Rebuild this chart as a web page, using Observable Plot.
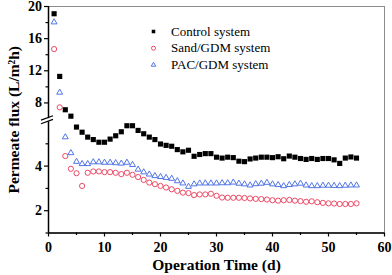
<!DOCTYPE html>
<html><head><meta charset="utf-8">
<script src="https://cdn.jsdelivr.net/npm/d3@7"></script>
<script src="https://cdn.jsdelivr.net/npm/@observablehq/plot@0.6"></script>
<style>body{margin:0;background:#fff} #chart svg{display:block} #chart svg text{font-family:"Liberation Serif","DejaVu Serif","Times New Roman",serif}</style>
</head><body><div id="chart"></div>
<script>
const days = [1,2,3,4,5,6,7,8,9,10,11,12,13,14,15,16,17,18,19,20,21,22,23,24,25,26,27,28,29,30,31,32,33,34,35,36,37,38,39,40,41,42,43,44,45,46,47,48,49,50,51,52,53,54,55];
const control = [19.1,11.3,7.15,6.35,5.75,5.52,5.30,5.19,5.07,5.07,5.21,5.36,5.54,5.81,5.81,5.60,5.45,5.30,5.19,4.99,4.93,4.89,4.74,4.64,4.71,4.44,4.52,4.56,4.56,4.40,4.36,4.40,4.38,4.22,4.20,4.32,4.36,4.40,4.40,4.38,4.42,4.33,4.45,4.40,4.34,4.30,4.34,4.30,4.34,4.34,4.28,4.12,4.36,4.41,4.36];
const sand = [14.7,7.45,4.45,3.88,3.68,3.11,3.70,3.76,3.76,3.73,3.73,3.70,3.64,3.70,3.61,3.51,3.38,3.26,3.19,3.11,3.04,2.96,2.89,2.81,2.79,2.70,2.73,2.73,2.76,2.67,2.59,2.58,2.58,2.58,2.57,2.55,2.53,2.52,2.50,2.47,2.45,2.47,2.48,2.45,2.43,2.40,2.42,2.38,2.35,2.33,2.32,2.30,2.30,2.30,2.33];
const pac = [18.05,9.3,5.3,4.59,4.2,4.1,4.1,4.18,4.18,4.16,4.16,4.14,4.12,4.16,4.06,3.85,3.73,3.63,3.56,3.52,3.48,3.44,3.33,3.23,3.08,3.19,3.23,3.23,3.23,3.23,3.24,3.24,3.27,3.22,3.19,3.14,3.20,3.22,3.26,3.19,3.16,3.11,3.16,3.19,3.22,3.14,3.11,3.11,3.13,3.13,3.12,3.11,3.13,3.14,3.14];
const seriesNames = ["Control system", "Sand/GDM system", "PAC/GDM system"];
const xMajor = [0,10,20,30,40,50,60];
const xMinor = [5,15,25,35,45,55];
const yMajor = [2,4,8,12,16,20];
const yMinor = [1,3,5,10,14,18];
const yLow = [1,6];
const yHigh = [6,20];
const xTitle = "Operation Time (d)";
const yTitle = "Permeate flux (L/m\u00B2h)";

const rows = (vals, s) => days.map((d, i) => ({day: d, flux: vals[i], series: s}));
const ctrlData = rows(control, seriesNames[0]);
const sandData = rows(sand, seriesNames[1]);
const pacData = rows(pac, seriesNames[2]);

const serif = "Liberation Serif, DejaVu Serif, Times New Roman, serif";
const red = "#ee4a66";
const blue = "#5275e6";

function breakMarks(index, scales) {
  const g = d3.create("svg:g");
  const x0 = scales.x(0);
  const yc = (scales.y(yHigh[0]) + scales.y(yLow[1] - 1e-9)) / 2;
  g.append("rect").attr("x", x0 - 2).attr("y", yc - 1.5).attr("width", 4).attr("height", 3).attr("fill", "white");
  for (const off of [-1.8, 1.8]) {
    g.append("line")
      .attr("x1", x0 - 7).attr("y1", yc + off + 2.2)
      .attr("x2", x0 + 5).attr("y2", yc + off - 2.2)
      .attr("stroke", "black").attr("stroke-width", 1.2);
  }
  return g.node();
}

const textCommon = {fontFamily: serif, fill: "black"};
const legendRow = (i, symbol, style, r) => [
  Plot.dot([seriesNames[i]], {frameAnchor: "top-left", dx: 105, dy: 25 + i * 16.7, symbol, r, ...style}),
  Plot.text([seriesNames[i]], {frameAnchor: "top-left", dx: 122.5, dy: 25 + i * 16.7, text: d => d, textAnchor: "start", lineAnchor: "middle", fontSize: 13, ...textCommon})
];

const chart = Plot.plot({
  width: 392,
  height: 275,
  marginLeft: 48,
  marginRight: 8,
  marginTop: 6,
  marginBottom: 42.5,
  style: {fontFamily: serif, background: "white", color: "black"},
  x: {domain: [0, 60], axis: null},
  y: {type: "linear", domain: [1, 6, 6, 20], range: [232.5, 121, 118.5, 6], axis: null},
  marks: [
    Plot.frame({stroke: "#8c8c8c", strokeWidth: 1}),
    Plot.ruleY([yLow[0]], {stroke: "black", strokeWidth: 1.5}),
    Plot.ruleX([0], {y1: yLow[0], y2: yLow[1] - 1e-9, stroke: "black", strokeWidth: 1.5}),
    Plot.ruleX([0], {y1: yHigh[0], y2: yHigh[1], stroke: "black", strokeWidth: 1.5}),
    Plot.axisX({ticks: xMajor, tickSize: 4, tickPadding: 5, fontSize: 14, fontWeight: "bold", label: null, strokeWidth: 1.2, ...textCommon, stroke: "black"}),
    Plot.axisX({ticks: xMinor, tickSize: 2.5, tickFormat: () => "", label: null, strokeWidth: 1.2, stroke: "black"}),
    Plot.axisY({ticks: yMajor, tickSize: 4, tickPadding: 2.5, fontSize: 14, fontWeight: "bold", label: null, strokeWidth: 1.2, ...textCommon, stroke: "black"}),
    Plot.axisY({ticks: yMinor, tickSize: 2.5, tickFormat: () => "", label: null, strokeWidth: 1.2, stroke: "black"}),
    breakMarks,
    Plot.dot(sandData, {x: "day", y: "flux", symbol: "circle", r: 2.6, stroke: red, strokeWidth: 1, fill: "none"}),
    Plot.dot(pacData, {x: "day", y: "flux", symbol: "triangle", r: 2.2, stroke: blue, strokeWidth: 1, fill: "none"}),
    Plot.dot(ctrlData, {x: "day", y: "flux", symbol: "square", r: 2.9, fill: "black", stroke: "none"}),
    ...legendRow(0, "square", {fill: "black", stroke: "none"}, 2),
    ...legendRow(1, "circle", {stroke: red, fill: "none", strokeWidth: 1}, 2),
    ...legendRow(2, "triangle", {stroke: blue, fill: "none", strokeWidth: 1}, 1.7),
    Plot.text([xTitle], {frameAnchor: "bottom", dy: 32, text: d => d, textAnchor: "middle", lineAnchor: "middle", fontSize: 15.5, fontWeight: "bold", ...textCommon}),
    Plot.text([yTitle], {frameAnchor: "left", dx: -34, rotate: -90, text: d => d, textAnchor: "middle", lineAnchor: "middle", fontSize: 15.5, fontWeight: "bold", ...textCommon})
  ]
});
document.getElementById("chart").appendChild(chart);
</script>
</body></html>
